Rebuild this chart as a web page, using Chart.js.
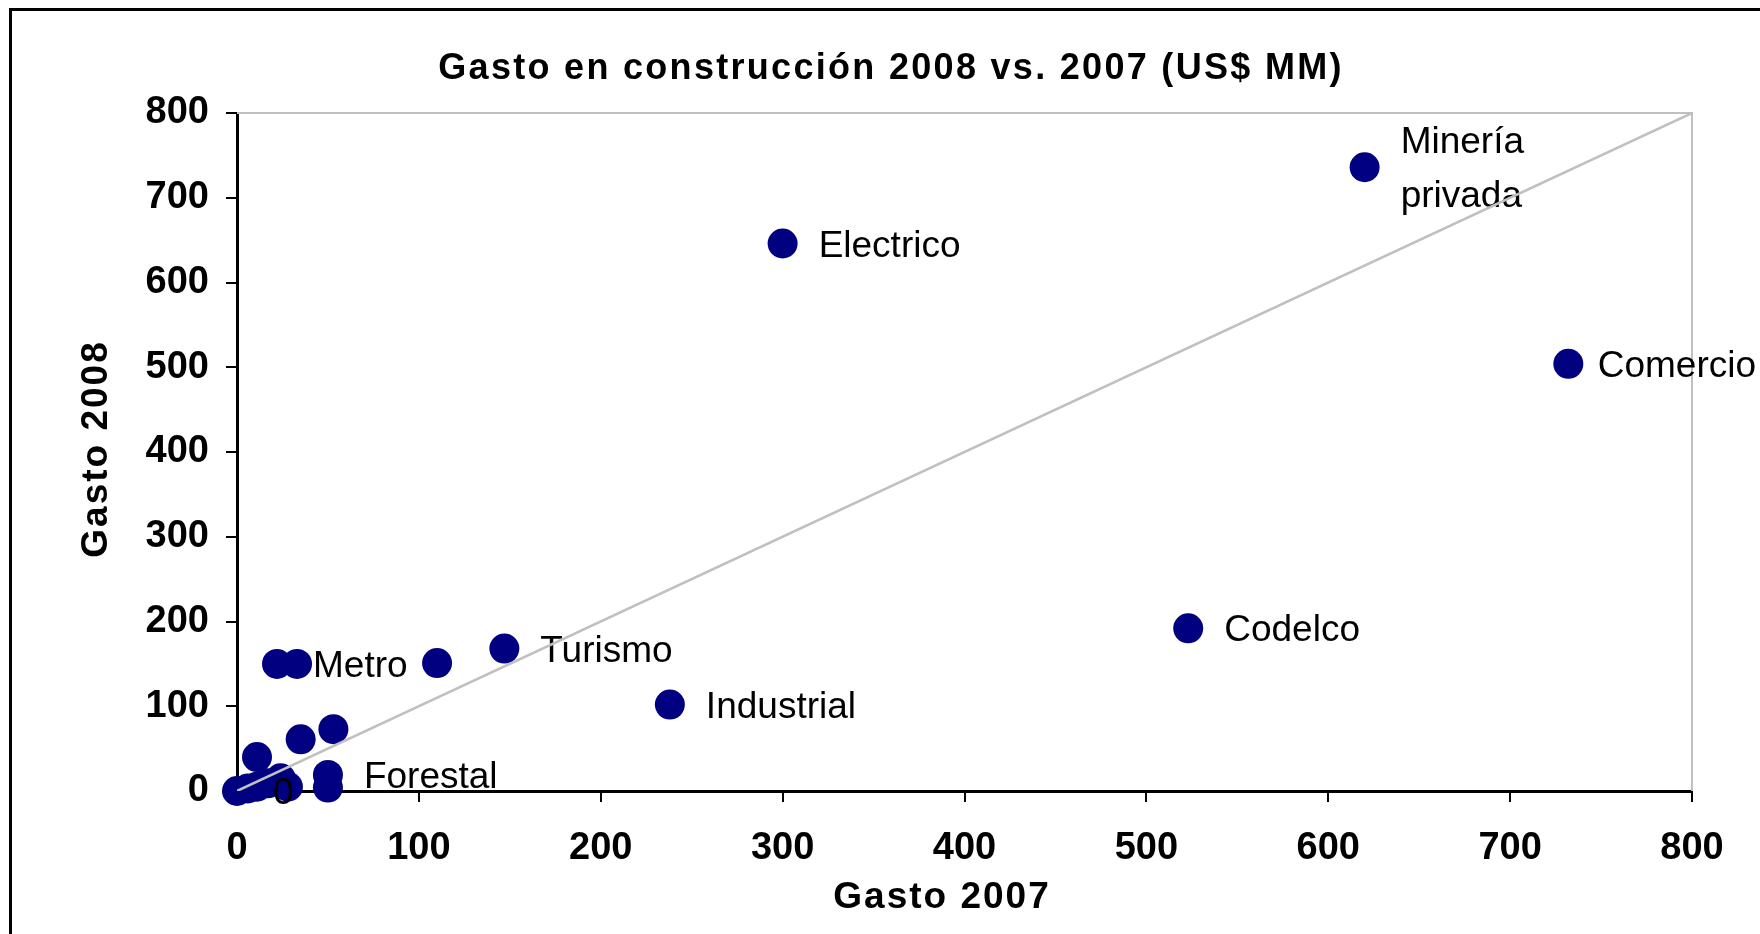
<!DOCTYPE html>
<html lang="es">
<head>
    <meta charset="UTF-8">
    <title>Gasto en construcción 2008 vs. 2007</title>
    <style>
        body {
            margin: 0;
            padding: 0;
            background: #fff;
            overflow: hidden;
        }
        .frame {
            position: absolute;
            left: 9px;
            top: 8px;
            width: 1800px;
            height: 1000px;
            border: 3px solid #000;
        }
        .wrap {
            position: absolute;
            left: 0;
            top: 0;
            width: 1760px;
            height: 934px;
        }
    </style>
</head>
<body>
    <div class="frame"></div>
    <div class="wrap">
        <canvas id="gastoChart"></canvas>
    </div>
    <script src="https://cdn.jsdelivr.net/npm/chart.js"></script>
    <script>
        const chartTitle = 'Gasto en construcción 2008 vs. 2007 (US$ MM)';
        const xTitle = 'Gasto 2007';
        const yTitle = 'Gasto 2008';

        // one entry per sector, same order in every array
        const sectors = ['Minería\nprivada', 'Electrico', 'Comercio', 'Codelco', 'Industrial', 'Turismo', '',
            'Metro', '', '', '', '', 'Forestal', '', '0', '', '', '', '', ''];
        const gasto2007 = [620, 300, 732, 523, 238, 147, 110, 22, 33, 53, 35, 11, 50, 50, 0, 6, 11, 17, 24, 28];
        const gasto2008 = [736, 646, 504, 192, 102, 168, 151, 150, 150, 73, 61, 40, 19, 4, 0, 3, 5, 9, 15, 5];

        // 45 degree reference line
        const refLine = [0, 800];

        const axisTicks = [0, 100, 200, 300, 400, 500, 600, 700, 800];

        const FONT = '"Liberation Sans", Arial, sans-serif';

        const points = gasto2007.map((x, i) => ({ x: x, y: gasto2008[i] }));
        const linePoints = refLine.map(v => ({ x: v, y: v }));

        const pointLabels = {
            id: 'pointLabels',
            afterDatasetDraw(chart, args) {
                if (args.index !== 0) return;
                const ctx = chart.ctx;
                const meta = chart.getDatasetMeta(0);
                ctx.save();
                ctx.font = '37px ' + FONT;
                ctx.fillStyle = '#000';
                ctx.textAlign = 'left';
                ctx.textBaseline = 'middle';
                meta.data.forEach((pt, i) => {
                    if (!sectors[i]) return;
                    const lines = sectors[i].split('\n');
                    const lh = 54;
                    const y0 = pt.y + 3 - (lines.length - 1) * lh / 2;
                    lines.forEach((t, j) => {
                        // keep the label inside the picture, like the original does
                        const w = ctx.measureText(t).width;
                        const x = Math.min(pt.x + 36, chart.width - 4 - w);
                        ctx.fillText(t, x, y0 + j * lh);
                    });
                });
                ctx.restore();
            }
        };

        const plotFrame = {
            id: 'plotFrame',
            beforeDatasetsDraw(chart) {
                const { ctx, chartArea: a } = chart;
                ctx.save();
                ctx.strokeStyle = '#c0c0c0';
                ctx.lineWidth = 2;
                ctx.beginPath();
                ctx.moveTo(a.left, a.top);
                ctx.lineTo(a.right, a.top);
                ctx.lineTo(a.right, a.bottom);
                ctx.stroke();
                ctx.restore();
            },
            afterDraw(chart) {
                const { ctx, chartArea: a } = chart;
                ctx.save();
                ctx.fillStyle = '#000';
                ctx.textAlign = 'center';
                ctx.textBaseline = 'middle';

                ctx.font = 'bold 36px ' + FONT;
                ctx.letterSpacing = '2.3px';
                ctx.fillText(chartTitle, 891, 69);

                ctx.font = 'bold 37px ' + FONT;
                ctx.letterSpacing = '2px';
                ctx.fillText(xTitle, 942, 898);

                ctx.translate(97, (a.top + a.bottom) / 2 - 3);
                ctx.rotate(-Math.PI / 2);
                ctx.fillText(yTitle, 0, 0);
                ctx.restore();
            }
        };

        const axisCommon = {
            type: 'linear',
            min: 0,
            max: 800,
            afterBuildTicks: scale => { scale.ticks = axisTicks.map(v => ({ value: v })); },
            grid: { drawOnChartArea: false, color: '#000', lineWidth: 2, tickLength: 11 },
            border: { display: true, color: '#000', width: 3 },
        };

        new Chart(document.getElementById('gastoChart'), {
            data: {
                datasets: [{
                    type: 'scatter',
                    data: points,
                    backgroundColor: '#000080',
                    borderColor: '#000080',
                    pointRadius: 15,
                    pointHoverRadius: 15,
                    borderWidth: 0,
                    order: 1,
                    clip: false
                }, {
                    type: 'line',
                    data: linePoints,
                    borderColor: '#c0c0c0',
                    borderWidth: 2.5,
                    pointRadius: 0,
                    order: 0
                }]
            },
            options: {
                responsive: true,
                maintainAspectRatio: false,
                animation: false,
                layout: { padding: { top: 113, right: 68, left: 0, bottom: 0 } },
                plugins: {
                    legend: { display: false },
                    tooltip: { enabled: false },
                    title: { display: false }
                },
                scales: {
                    x: {
                        ...axisCommon,
                        position: 'bottom',
                        afterFit: scale => { scale.height = 143; },
                        ticks: { color: '#000', padding: 24, font: { family: FONT, size: 38, weight: 'bold' } }
                    },
                    y: {
                        ...axisCommon,
                        position: 'left',
                        afterFit: scale => { scale.width = 237; },
                        ticks: { color: '#000', padding: 17, font: { family: FONT, size: 38, weight: 'bold' } }
                    }
                }
            },
            plugins: [pointLabels, plotFrame]
        });
    </script>
</body>
</html>
